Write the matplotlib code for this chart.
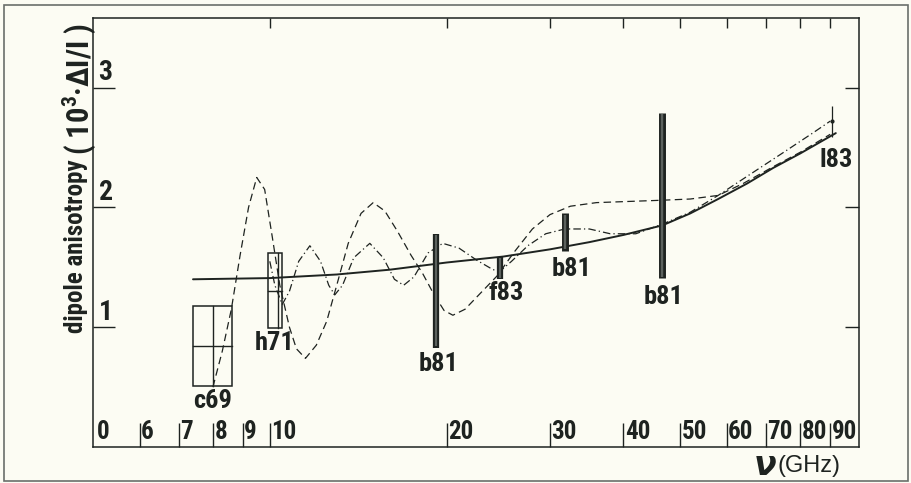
import matplotlib
matplotlib.use('Agg')
import matplotlib.pyplot as plt
from matplotlib import font_manager
from matplotlib.patches import Rectangle
import numpy as np

installed = {f.name for f in font_manager.fontManager.ttflist}
cond = next(n for n in ['Liberation Sans Narrow', 'Roboto Condensed', 'Open Sans Condensed',
                        'Roboto', 'DejaVu Sans'] if n in installed)
plt.rcParams['font.family'] = [cond, 'DejaVu Sans']
plt.rcParams['font.weight'] = 'bold'
plt.rcParams['mathtext.fontset'] = 'custom'
plt.rcParams['mathtext.bf'] = cond + ':bold'
plt.rcParams['mathtext.rm'] = cond + ':bold'

# frequency (GHz) / dipole anisotropy (10^3 dI/I)
solid_f = [7.4, 10, 13, 16, 20, 25, 30, 35, 40, 46.6, 52, 58, 65, 72, 80, 92]
solid_y = [1.40, 1.41, 1.44, 1.48, 1.54, 1.59, 1.65, 1.71, 1.77, 1.85, 1.95, 2.07, 2.20, 2.33, 2.45, 2.62]

dash_f = [8.0, 8.3, 8.6, 8.9, 9.2, 9.5, 9.8, 10.1, 10.4, 10.8, 11.1, 11.5, 12.0, 12.5, 13.0,
          13.6, 14.3, 15.0, 15.7, 16.5, 17.4, 18.2, 19.0, 19.8, 20.5, 21.5, 22.8, 24.4, 26.0,
          28.0, 30.0, 32.5, 36.0, 41.0, 46.6, 52.0, 58.0, 64.0, 72.0, 80.0, 90.0]
dash_y = [0.50, 0.80, 1.15, 1.60, 2.00, 2.25, 2.15, 1.75, 1.35, 1.00, 0.82, 0.74, 0.85, 1.05, 1.35,
          1.70, 1.95, 2.04, 1.97, 1.80, 1.60, 1.45, 1.28, 1.14, 1.10, 1.15, 1.28, 1.43, 1.62,
          1.82, 1.94, 2.01, 2.04, 2.05, 2.06, 2.07, 2.10, 2.20, 2.34, 2.46, 2.61]

dot_f = [10.0, 10.2, 10.5, 10.8, 11.2, 11.7, 12.2, 12.6, 12.9, 13.3, 13.9, 14.8, 15.6, 16.3,
         16.9, 17.6, 18.6, 19.7, 21.0, 22.5, 24.0, 24.7, 25.8, 27.5, 29.5, 31.8, 35.0, 38.0,
         42.0, 46.6, 52.0, 58.0, 65.0, 75.0, 84.0, 90.0]
dot_y = [1.55, 1.35, 1.19, 1.30, 1.55, 1.68, 1.55, 1.35, 1.27, 1.35, 1.58, 1.70, 1.58, 1.40,
         1.35, 1.42, 1.62, 1.70, 1.66, 1.56, 1.48, 1.47, 1.55, 1.68, 1.78, 1.82, 1.82, 1.78,
         1.78, 1.86, 1.96, 2.10, 2.26, 2.46, 2.62, 2.72]

# box measurements
box_labels = ['c69', 'h71']
box_f_lo = [7.4, 9.93]
box_f_hi = [8.62, 10.49]
box_f_mid = [8.0, 10.33]
box_lo = [0.51, 0.99]
box_hi = [1.18, 1.62]
box_mid = [0.84, 1.30]

# bar measurements
bar_labels = ['b81', 'f83', 'b81', 'b81']
bar_f = [19.2, 24.7, 31.8, 46.6]
bar_lo = [0.83, 1.40, 1.64, 1.41]
bar_hi = [1.78, 1.59, 1.95, 2.79]

l83_f = 90.7
l83_lo, l83_mid, l83_hi = 2.59, 2.72, 2.85

xtick_vals = [6, 7, 8, 9, 10, 20, 30, 40, 50, 60, 70, 80, 90]
xtick_labels = ['6', '7', '8', '9', '10', '20', '30', '40', '50', '60', '70', '80', '90']
ytick_vals = [1, 2, 3]

ink = '#1e2320'
fig = plt.figure(figsize=(9.12, 4.83), dpi=100, facecolor='#fcfcf3')
ax = fig.add_axes([0.102, 0.0745, 0.840, 0.888])
ax.set_facecolor('#fcfcf3')
ax.set_xscale('log')
ax.set_xlim(5, 100.8)
ax.set_ylim(0, 3.58)
for s in ax.spines.values():
    s.set_color(ink)
    s.set_linewidth(1.1)

# ticks: bottom long, top short, left/right inward
ax.set_xticks(xtick_vals)
ax.set_xticklabels([])
ax.xaxis.set_minor_locator(matplotlib.ticker.NullLocator())
ax.set_yticks(ytick_vals)
ax.set_yticklabels([])
ax.tick_params(axis='x', direction='in', length=17, width=1, color=ink, bottom=True, top=False)
ax.tick_params(axis='y', direction='in', length=16, width=1, color=ink, left=True, right=False)

sec = ax.secondary_xaxis('top')
sec.set_xticks([10, 20, 30, 40, 50, 60, 70, 80, 90])
sec.set_xticklabels([])
sec.xaxis.set_minor_locator(matplotlib.ticker.NullLocator())
sec.tick_params(direction='in', length=7, width=1, color=ink)
sec.spines['top'].set_visible(False)
secy = ax.secondary_yaxis('right')
secy.set_yticks(ytick_vals)
secy.set_yticklabels([])
secy.tick_params(direction='in', length=10, width=1, color=ink)
secy.spines['right'].set_visible(False)

# tick labels inside the axes
xt = ax.get_xaxis_transform()
for v, lab in zip(xtick_vals, xtick_labels):
    ax.annotate(lab, (v, 0), xycoords=xt, xytext=(1, 2), textcoords='offset points',
                ha='left', va='bottom', fontsize=18, color=ink, fontweight='bold')
ax.annotate('0', (0, 0), xycoords='axes fraction', xytext=(3, 2), textcoords='offset points',
            ha='left', va='bottom', fontsize=18, color=ink, fontweight='bold')
yt = ax.get_yaxis_transform()
for v in ytick_vals:
    ax.annotate(str(v), (0, v), xycoords=yt, xytext=(4, 1), textcoords='offset points',
                ha='left', va='bottom', fontsize=20, color=ink, fontweight='bold')

# curves
ax.plot(solid_f, solid_y, color=ink, lw=1.4, solid_capstyle='round')
ax.plot(dash_f, dash_y, color=ink, lw=0.9, dashes=(6, 3.5))
ax.plot(dot_f, dot_y, color=ink, lw=0.9, dashes=(6, 2.5, 1, 2.5))

# boxes
for i in range(len(box_labels)):
    ax.add_patch(Rectangle((box_f_lo[i], box_lo[i]), box_f_hi[i] - box_f_lo[i],
                           box_hi[i] - box_lo[i], fill=False, ec=ink, lw=1.1))
    ax.plot([box_f_lo[i], box_f_hi[i]], [box_mid[i]] * 2, color=ink, lw=1)
    ax.plot([box_f_mid[i]] * 2, [box_lo[i], box_hi[i]], color=ink, lw=1)
ax.annotate(box_labels[0], (box_f_mid[0], box_lo[0]), xytext=(0, -2), textcoords='offset points',
            ha='center', va='top', fontsize=19, color=ink, fontweight='bold')
ax.annotate(box_labels[1], (np.sqrt(box_f_lo[1] * box_f_hi[1]), box_lo[1]), xytext=(0, -2),
            textcoords='offset points', ha='center', va='top', fontsize=19, color=ink,
            fontweight='bold')

# bars
bar_w = [4.5, 4.5, 5, 5]
bar_off = [(2, -3), (4, -1), (5, -5), (1, -5)]
for f, lo, hi, lab, w, off in zip(bar_f, bar_lo, bar_hi, bar_labels, bar_w, bar_off):
    ax.vlines(f, lo, hi, color=ink, lw=w)
    ax.vlines(f, lo + 0.01, hi - 0.01, color='#5c625e', lw=w * 0.35)
    ax.annotate(lab, (f, lo), xytext=off, textcoords='offset points', ha='center', va='top',
                fontsize=19, color=ink, fontweight='bold')

ax.vlines(l83_f, l83_lo, l83_hi, color=ink, lw=0.9)
ax.plot([l83_f], [l83_mid], 'o', ms=2, color=ink)
ax.annotate('l83', (l83_f, l83_lo), xytext=(3, -8), textcoords='offset points', ha='center',
            va='top', fontsize=19, color=ink, fontweight='bold')

# axis titles
fig.text(0.083, 0.49, 'dipole anisotropy', rotation=90, ha='center', va='center',
         fontsize=18, color=ink, fontweight='bold')
fig.text(0.087, 0.815, '( $\\mathbf{10^{3}}$·ΔI/I )', rotation=90,
         ha='center', va='center', fontsize=22, color=ink, fontweight='bold')
fig.text(0.826, 0.035, '$\\mathit{\\nu}$', ha='left', va='center', fontsize=24, color=ink)
fig.text(0.852, 0.035, '(GHz)', ha='left', va='center', fontsize=17, color=ink,
         family=['Liberation Sans', 'DejaVu Sans'], fontweight='normal')

# scan border
fig.add_artist(Rectangle((0.004, 0.004), 0.992, 0.985, transform=fig.transFigure,
                         fill=False, ec='#6a6f6b', lw=1.2))

fig.savefig('out.png', dpi=100, facecolor=fig.get_facecolor())
